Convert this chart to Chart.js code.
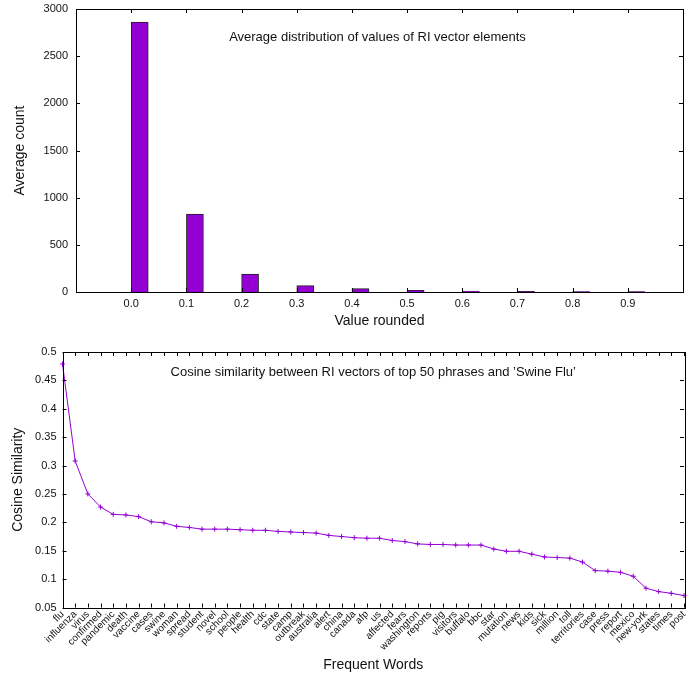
<!DOCTYPE html>
<html>
<head>
<meta charset="utf-8">
<script src="https://cdn.jsdelivr.net/npm/chart.js@4/dist/chart.umd.min.js"></script>
<style>
  html, body { margin: 0; padding: 0; background: #fff; }
  #wrap { position: relative; width: 694px; height: 679px; }
  #top { position: absolute; left: 0; top: 0; }
  #bottom { position: absolute; left: 0; top: 340px; }
</style>
</head>
<body>
<div id="wrap">
  <canvas id="top" width="694" height="340"></canvas>
  <canvas id="bottom" width="694" height="339"></canvas>
</div>
<script>
// top chart: average count per rounded value
const valueBins = [0.0, 0.1, 0.2, 0.3, 0.4, 0.5, 0.6, 0.7, 0.8, 0.9];
const averageCounts = [2862, 827, 191, 67, 35, 18, 10, 6, 5, 4];

// bottom chart: cosine similarity with 'Swine Flu'
const words = ['flu', 'influenza', 'virus', 'confirmed', 'pandemic', 'death', 'vaccine', 'cases', 'swine', 'woman',
  'spread', 'student', 'novel', 'school', 'people', 'health', 'cdc', 'state', 'camp', 'outbreak',
  'australia', 'alert', 'china', 'canada', 'afp', 'us', 'affected', 'fears', 'washington', 'reports',
  'pig', 'visitors', 'buffalo', 'bbc', 'star', 'mutation', 'news', 'kids', 'sick', 'million',
  'toll', 'territories', 'case', 'press', 'report', 'mexico', 'new-york', 'states', 'times', 'post'];
const similarity = [0.479, 0.308, 0.250, 0.227, 0.214, 0.213, 0.210, 0.201, 0.199, 0.193,
  0.191, 0.188, 0.188, 0.188, 0.187, 0.186, 0.186, 0.184, 0.183, 0.182,
  0.181, 0.177, 0.175, 0.173, 0.172, 0.172, 0.168, 0.166, 0.162, 0.161,
  0.161, 0.160, 0.160, 0.160, 0.153, 0.149, 0.149, 0.144, 0.139, 0.138,
  0.137, 0.130, 0.115, 0.114, 0.112, 0.105, 0.084, 0.078, 0.075, 0.071];

const PURPLE = '#9400d3';
const FONT = 'Liberation Sans, Arial, sans-serif';
const TEXT = '#111';

// fixed axis box sizes, no extra padding for overhanging labels
function fixBox(size) {
  return s => {
    if (s.isHorizontal()) s.height = size; else s.width = size;
    s.paddingTop = 0; s.paddingBottom = 0; s.paddingLeft = 0; s.paddingRight = 0;
  };
}

// gnuplot-like frame, inward ticks on all sides, and a title inside the plot
const framePlugin = {
  id: 'frame',
  afterDraw(chart, args, opts) {
    const { ctx, chartArea: a, scales: { x, y } } = chart;
    const len = opts.tick;
    ctx.save();
    ctx.strokeStyle = '#000';
    ctx.lineWidth = 1;
    ctx.beginPath();
    x.ticks.forEach((t, i) => {
      const px = Math.round(x.getPixelForTick(i)) + 0.5;
      ctx.moveTo(px, a.bottom); ctx.lineTo(px, a.bottom - len);
      ctx.moveTo(px, a.top); ctx.lineTo(px, a.top + len);
    });
    y.ticks.forEach((t, i) => {
      const py = Math.round(y.getPixelForTick(i)) + 0.5;
      ctx.moveTo(a.left, py); ctx.lineTo(a.left + len, py);
      ctx.moveTo(a.right, py); ctx.lineTo(a.right - len, py);
    });
    ctx.stroke();
    ctx.strokeRect(Math.round(a.left) + 0.5, Math.round(a.top) + 0.5,
      Math.round(a.right - a.left), Math.round(a.bottom - a.top));
    ctx.fillStyle = TEXT;
    ctx.font = '13px ' + FONT;
    ctx.textAlign = 'center';
    ctx.textBaseline = 'middle';
    ctx.fillText(opts.text, (a.left + a.right) / 2 + opts.dx, a.top + opts.dy);
    ctx.restore();
  }
};

const BAR_SHIFT = 0.0155; // boxes start at the tick, gnuplot style

new Chart(document.getElementById('top'), {
  type: 'bar',
  data: {
    datasets: [{
      data: valueBins.map((v, i) => ({ x: v + BAR_SHIFT, y: averageCounts[i] })),
      backgroundColor: PURPLE,
      borderColor: '#222',
      borderWidth: 1,
      barThickness: 17
    }]
  },
  options: {
    responsive: false,
    animation: false,
    layout: { padding: { top: 9, right: 11, left: 0, bottom: 0 } },
    plugins: {
      legend: { display: false },
      tooltip: { enabled: false },
      frame: { text: 'Average distribution of values of RI vector elements', tick: 4, dx: -2, dy: 28 }
    },
    scales: {
      x: {
        type: 'linear',
        offset: false,
        min: -0.1,
        max: 1.0,
        afterBuildTicks: s => { s.ticks = valueBins.map(v => ({ value: v })); },
        afterFit: fixBox(48),
        grid: { display: false, drawTicks: false },
        border: { display: false },
        ticks: { color: TEXT, font: { family: FONT, size: 11 }, padding: 5, callback: v => v.toFixed(1) },
        title: { display: true, text: 'Value rounded', color: TEXT, font: { family: FONT, size: 14 }, padding: { top: 0, bottom: 10 } }
      },
      y: {
        min: 0,
        max: 3000,
        afterFit: fixBox(76),
        grid: { display: false, drawTicks: false },
        border: { display: false },
        ticks: { stepSize: 500, color: TEXT, font: { family: FONT, size: 11 }, padding: 8, callback: v => String(v) },
        title: { display: true, text: 'Average count', color: TEXT, font: { family: FONT, size: 14 }, padding: { top: 12, bottom: 0 } }
      }
    }
  },
  plugins: [framePlugin]
});

new Chart(document.getElementById('bottom'), {
  type: 'line',
  data: {
    labels: words,
    datasets: [{
      data: similarity,
      borderColor: PURPLE,
      backgroundColor: PURPLE,
      borderWidth: 1,
      pointStyle: 'cross',
      pointRadius: 2.5,
      pointBorderWidth: 1,
      tension: 0
    }]
  },
  options: {
    responsive: false,
    animation: false,
    layout: { padding: { top: 12, right: 10, left: 0, bottom: 0 } },
    plugins: {
      legend: { display: false },
      tooltip: { enabled: false },
      frame: { text: 'Cosine similarity between RI vectors of top 50 phrases and \u2019Swine Flu\u2019', tick: 4, dx: 0, dy: 20 }
    },
    scales: {
      x: {
        offset: false,
        afterFit: fixBox(71.5),
        grid: { display: false, drawTicks: false },
        border: { display: false },
        ticks: { autoSkip: false, minRotation: 45, maxRotation: 45, color: TEXT, font: { family: FONT, size: 10 }, padding: 1 },
        title: { display: true, text: 'Frequent Words', color: TEXT, font: { family: FONT, size: 14 }, padding: { top: 0, bottom: 5 } }
      },
      y: {
        min: 0.05,
        max: 0.5,
        afterFit: fixBox(62.5),
        grid: { display: false, drawTicks: false },
        border: { display: false },
        ticks: { stepSize: 0.05, color: TEXT, font: { family: FONT, size: 11 }, padding: 6,
          callback: v => String(Number(v.toFixed(2))) },
        title: { display: true, text: 'Cosine Similarity', color: TEXT, font: { family: FONT, size: 14 }, padding: { top: 10, bottom: 0 } }
      }
    }
  },
  plugins: [framePlugin]
});
</script>
</body>
</html>
